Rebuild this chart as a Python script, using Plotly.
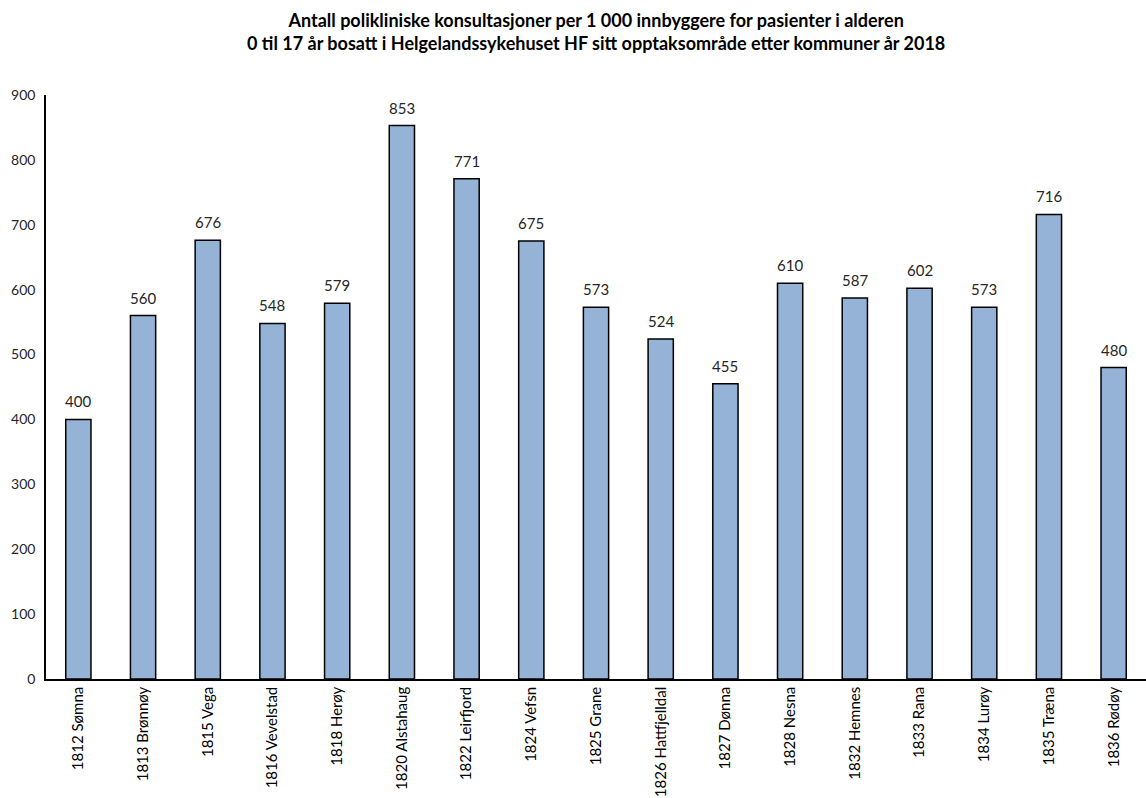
import plotly.graph_objects as go

kommuner = ["1812 Sømna", "1813 Brønnøy", "1815 Vega", "1816 Vevelstad", "1818 Herøy",
            "1820 Alstahaug", "1822 Leirfjord", "1824 Vefsn", "1825 Grane", "1826 Hattfjelldal",
            "1827 Dønna", "1828 Nesna", "1832 Hemnes", "1833 Rana", "1834 Lurøy",
            "1835 Træna", "1836 Rødøy"]
konsultasjoner = [400, 560, 676, 548, 579, 853, 771, 675, 573, 524, 455, 610, 587, 602, 573, 716, 480]
y_ticks = [0, 100, 200, 300, 400, 500, 600, 700, 800, 900]

font_family = "Lato, Open Sans, sans-serif"

fig = go.Figure(go.Bar(
    x=kommuner,
    y=konsultasjoner,
    marker=dict(color="#95B3D7", line=dict(color="black", width=1.5)),
    cliponaxis=False,
))

# value labels above each bar
for k, v in zip(kommuner, konsultasjoner):
    fig.add_annotation(
        x=k, y=v, text=str(v), showarrow=False,
        xanchor="center", yanchor="bottom", yshift=7,
        font=dict(size=15, color="#262626", family=font_family),
    )

# two-line title
fig.add_annotation(
    xref="paper", yref="paper", x=0.5, y=1.0, yshift=88,
    xanchor="center", yanchor="top", showarrow=False,
    text="<b>Antall polikliniske konsultasjoner per 1 000 innbyggere for pasienter i alderen<br>"
         "0 til 17 år bosatt i Helgelandssykehuset HF sitt opptaksområde etter kommuner år 2018</b>",
    font=dict(size=18, color="black", family=font_family),
)

fig.update_layout(
    width=1146, height=798,
    margin=dict(l=46, r=0, t=95, b=119),
    plot_bgcolor="white", paper_bgcolor="white",
    bargap=0.61,
    showlegend=False,
    xaxis=dict(
        tickangle=-90,
        tickfont=dict(size=15, color="black", family=font_family),
        showline=True, linecolor="black", linewidth=1.5,
        ticks="", showgrid=False,
    ),
    yaxis=dict(
        range=[0, 900],
        tickvals=y_ticks,
        tickfont=dict(size=14, color="#262626", family=font_family),
        showline=True, linecolor="black", linewidth=1.5,
        ticks="outside", ticklen=6, tickcolor="white",
        showgrid=False, zeroline=False,
    ),
)

fig.write_html("out.html")
